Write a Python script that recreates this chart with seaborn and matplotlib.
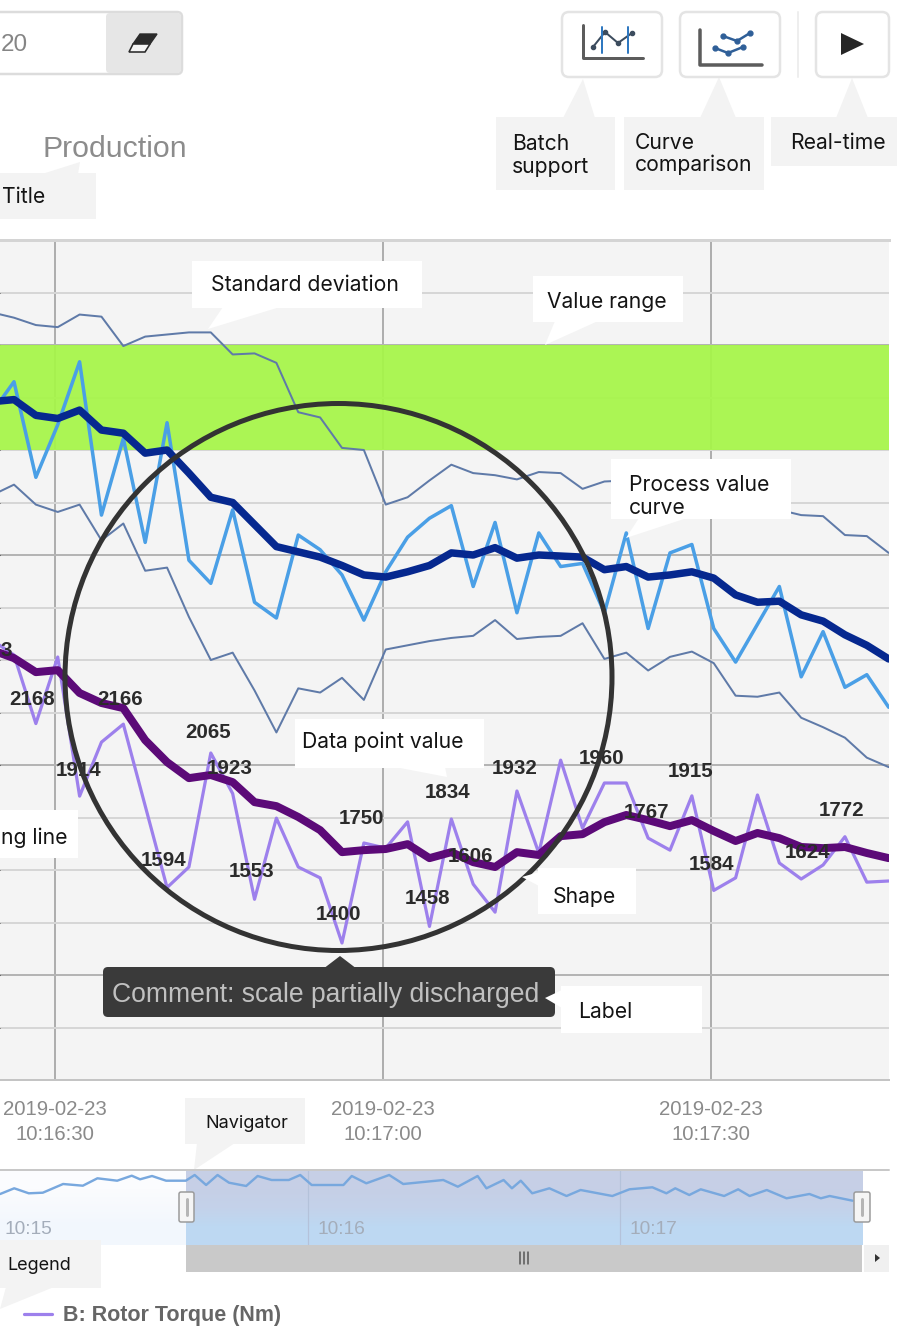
"""
Production trend chart with process value, torque and navigator, plus callouts
"""
import matplotlib.pyplot as plt
from matplotlib.colors import LinearSegmentedColormap
from matplotlib.patches import Circle, FancyBboxPatch, Polygon, Rectangle
import pandas as pd
import seaborn as sns

# sample times, seconds after 10:16:00
times = [24.25, 26.25, 28.25, 30.25, 32.25, 34.25, 36.25, 38.25, 40.25, 42.25, 44.25,
         46.25, 48.25, 50.25, 52.25, 54.25, 56.25, 58.25, 60.25, 62.25, 64.25, 66.25,
         68.25, 70.25, 72.25, 74.25, 76.25, 78.25, 80.25, 82.25, 84.25, 86.25, 88.25,
         90.25, 92.25, 94.25, 96.25, 98.25, 100.25, 102.25, 104.25, 106.25]

# A: process value, raw and smoothed, with the deviation curves
process_raw = [63.6, 66.5, 57.4, 62.4, 68.4, 53.8, 61.1, 51.2, 62.6, 49.5, 47.3, 54.3,
               45.5, 44.0, 51.9, 50.5, 48.1, 43.8, 48.4, 51.7, 53.5, 54.7, 47.0, 53.1,
               44.5, 52.1, 48.9, 49.2, 44.5, 52.1, 43.0, 50.2, 51.0, 43.0, 39.8, 43.4,
               47.0, 38.4, 42.7, 37.4, 38.6, 35.5]
process_mean = [64.6, 64.8, 63.3, 63.0, 63.8, 61.9, 61.6, 59.7, 60.0, 57.8, 55.5, 55.0,
                52.9, 50.8, 50.3, 49.8, 49.0, 48.1, 47.9, 48.4, 49.0, 50.2, 50.0, 50.7,
                49.7, 50.0, 49.9, 49.8, 48.6, 48.9, 47.9, 48.1, 48.4, 47.8, 46.2, 45.5,
                45.6, 44.3, 43.7, 42.4, 41.4, 40.1]
std_upper = [73.1, 72.6, 71.9, 71.7, 72.9, 72.7, 69.9, 70.8, 71.0, 71.2, 71.2, 69.1,
             69.2, 68.3, 63.6, 63.1, 60.2, 60.0, 54.8, 55.5, 57.1, 58.6, 57.8, 57.6,
             57.2, 57.9, 57.8, 56.3, 57.0, 57.1, 56.8, 56.4, 56.2, 55.7, 55.0, 54.8,
             54.3, 53.8, 53.7, 51.9, 51.8, 50.2]
std_lower = [55.7, 56.7, 54.8, 54.1, 54.8, 51.4, 53.0, 48.5, 48.8, 44.1, 40.0, 40.7,
             37.1, 33.1, 37.3, 36.9, 38.3, 36.2, 41.0, 41.4, 41.8, 42.1, 42.3, 43.8,
             42.0, 42.2, 42.3, 43.5, 40.1, 40.7, 39.0, 40.3, 40.8, 39.7, 36.6, 36.5,
             36.9, 34.5, 33.6, 32.6, 30.7, 29.8]

# B: rotor torque, raw and smoothed
torque_raw = [2460, 2408, 2168, 2401, 1914, 2103, 2166, 1880, 1594, 1666, 2065, 1923,
              1553, 1837, 1666, 1628, 1400, 1750, 1732, 1824, 1458, 1834, 1606, 1508,
              1932, 1715, 2040, 1802, 1960, 1960, 1767, 1725, 1915, 1584, 1628, 1918,
              1680, 1624, 1673, 1772, 1613, 1617]
torque_mean = [2425, 2397, 2348, 2355, 2275, 2240, 2222, 2110, 2033, 1977, 1988, 1963,
               1893, 1879, 1841, 1795, 1718, 1725, 1729, 1746, 1697, 1718, 1683, 1666,
               1718, 1708, 1774, 1781, 1823, 1848, 1830, 1809, 1830, 1792, 1757, 1785,
               1767, 1736, 1732, 1736, 1715, 1697]

# positions in torque_raw that carry a value label
label_index = [2, 6, 4, 8, 10, 11, 12, 16, 17, 20, 21, 22, 24, 28, 30, 32, 33, 37, 39]

tick_seconds = [30, 60, 90]
tick_labels = ['2019-02-23\n10:16:30', '2019-02-23\n10:17:00', '2019-02-23\n10:17:30']
major_grid = [10, 30, 50, 70]
minor_grid = [0, 5, 15, 20, 25, 35, 40, 45, 55, 60, 65, 75, 80]
value_range = [60, 70]

# navigator overview, seconds after 10:15:00
nav_seconds = [0.8, 3.5, 6.3, 9.0, 12.9, 16.7, 19.5, 23.3, 26.1, 27.7, 30.0, 32.7, 36.5,
               38.2, 40.4, 42.6, 44.8, 48.1, 50.3, 53.0, 56.3, 58.5, 60.7, 66.8, 68.4,
               71.2, 75.6, 78.3, 86.0, 88.8, 92.6, 94.3, 97.6, 99.2, 100.9, 103.1, 106.4,
               109.7, 112.4, 118.5, 121.8, 126.2, 128.9, 130.6, 133.3, 135.5, 140.0,
               142.7, 144.9, 148.2, 152.0, 156.4, 158.6, 160.3, 164.7]
nav_values = [51, 56.7, 51.7, 52.3, 61, 59.3, 66.7, 64.3, 69.3, 65.7, 69, 64.3, 64.3, 70,
              60, 70, 62.3, 59, 69, 65, 65, 70, 60, 60, 69, 61.7, 70, 61, 65, 58.3, 69,
              56.7, 65, 56.7, 64.3, 51.7, 56.7, 49, 55, 49, 55.7, 57.7, 51.7, 56.7, 50,
              55.7, 49, 55.7, 49, 55, 46.7, 51, 46.7, 49, 44.3]
nav_ticks = [60, 120]
nav_tick_labels = ['10:15', '10:16', '10:17']

W, H = 897, 1337
PX = 0.72  # line width in points for one pixel at dpi 100
ARIAL = 'Liberation Sans'
NOTE = 'Inter'

# where each value label sits, in pixels from its point
label_offsets = [(-4, 24), (-3, 25), (-1, 26), (-4, 27), (-3, 21), (-3, 25), (-3, 28),
                 (-3, 28), (-2, 25), (-2, 28), (-4, 26), (-3, 28), (-2, 23), (-3, 24),
                 (-2, 26), (-1, 24), (-2, 26), (6, 26), (-3, 26)]

sns.set_style('white')
plt.rcParams['font.family'] = [ARIAL, 'DejaVu Sans']

df = pd.DataFrame({'t': times, 'raw': process_raw, 'mean': process_mean, 'up': std_upper,
                   'low': std_lower, 'tq': torque_raw, 'tq_mean': torque_mean})

fig = plt.figure(figsize=(W / 100, H / 100), dpi=100, facecolor='white')


def axes_px(x0, y0, x1, y1):
    return fig.add_axes([x0 / W, 1 - y1 / H, (x1 - x0) / W, (y1 - y0) / H])


# main chart
ax = axes_px(0, 240, 889, 1080)
ax.set_facecolor('#f4f4f4')
ax.set_axisbelow(True)
ax.set_xlim(24.97, 106.28)
ax.set_ylim(0, 80)
ax.axhspan(*value_range, color='#a6f648', alpha=0.93, lw=0, zorder=1)
ax.set_yticks(major_grid)
ax.set_yticks(minor_grid, minor=True)
ax.set_xticks(tick_seconds, tick_labels)
ax.grid(which='major', axis='y', color='#b4b4b4', lw=2 * PX)
ax.grid(which='minor', axis='y', color='#d6d6d6', lw=2 * PX)
ax.grid(which='major', axis='x', color='#aeaeae', lw=2 * PX)
ax.tick_params(axis='y', which='both', left=False, labelleft=False)
ax.tick_params(axis='x', length=7, width=1, color='#cccccc', pad=7.5, labelsize=14.7,
               labelcolor='#8a8a8a')
for label in ax.get_xticklabels():
    label.set_linespacing(1.42)
sns.despine(ax=ax, left=True, right=True)
ax.spines['top'].set_visible(True)
ax.spines['top'].set_color('#d4d4d4')
ax.spines['top'].set_linewidth(3 * PX)
ax.spines['bottom'].set_color('#c4c4c4')
ax.spines['bottom'].set_linewidth(2 * PX)

sns.lineplot(data=df, x='t', y='up', ax=ax, color='#5f7aa8', lw=2 * PX, legend=False)
sns.lineplot(data=df, x='t', y='low', ax=ax, color='#5f7aa8', lw=2 * PX, legend=False)
sns.lineplot(data=df, x='t', y='raw', ax=ax, color='#4a9fe6', lw=3.5 * PX, legend=False)
sns.lineplot(data=df, x='t', y='mean', ax=ax, color='#06288f', lw=7.5 * PX, legend=False)
ax.set_xlabel('')
ax.set_ylabel('')
ax.set_title('Production', x=115 / 889, pad=60, fontsize=21.8, color='#8c8c8c')

# torque runs on its own scale
ax2 = ax.twinx()
ax2.set_ylim(920.5, 3860.5)
ax2.axis('off')
sns.lineplot(data=df, x='t', y='tq', ax=ax2, color='#9d80ec', lw=3.2 * PX, legend=False,
             label='B: Rotor Torque (Nm)')
sns.lineplot(data=df, x='t', y='tq_mean', ax=ax2, color='#5c0a78', lw=8 * PX, legend=False)
ax2.grid(False)
for i, offset in zip(label_index, label_offsets):
    ax2.annotate(str(torque_raw[i]), (times[i], torque_raw[i]), xytext=offset,
                 textcoords='offset pixels', ha='center', va='center', fontsize=14.8,
                 fontweight='bold', color='#2b2b2b', zorder=6)

# navigator
nav = axes_px(0, 1170, 889, 1245)
select_cmap = LinearSegmentedColormap.from_list('sel', ['#bdd8f2', '#c4d2ea', '#c6cfe6'])
pale_cmap = LinearSegmentedColormap.from_list('pale', ['#f2f7fd', '#fbfcfe'])
nav.imshow([[0], [1]], extent=(36.5, 166.5, 0, 75), origin='lower', aspect='auto',
           cmap=select_cmap, interpolation='bilinear', zorder=0)
nav.imshow([[0], [1]], extent=(0.77, 36.5, 0, 75), origin='lower', aspect='auto',
           cmap=pale_cmap, interpolation='bilinear', zorder=0)
nav.set_xlim(0.77, 171.7)
nav.set_ylim(0, 75)
for sec in nav_ticks:
    nav.axvline(sec, color='#b4c2da', lw=1.2 * PX, zorder=1)
sns.lineplot(x=nav_seconds, y=nav_values, ax=nav, color='#78a8de', lw=2.4 * PX, legend=False)
nav.axis('off')
for sec, text in zip([0, *nav_ticks], nav_tick_labels):
    nav.annotate(text, (sec, 0), xytext=(9, 16), textcoords='offset pixels', fontsize=13.8,
                 color='#a4adba', va='center', ha='left', annotation_clip=False)

# overlay in picture pixels for circle, toolbar and callouts
over = fig.add_axes([0, 0, 1, 1], zorder=5)
over.set_xlim(0, W)
over.set_ylim(H, 0)
over.axis('off')
over.patch.set_alpha(0)


def box(x0, y0, x1, y1, fc, ec='none', lw=0, rounded=0):
    if rounded:
        patch = FancyBboxPatch((x0 + rounded, y0 + rounded), x1 - x0 - 2 * rounded,
                               y1 - y0 - 2 * rounded, boxstyle=f'round,pad={rounded}',
                               fc=fc, ec=ec, lw=lw)
    else:
        patch = Rectangle((x0, y0), x1 - x0, y1 - y0, fc=fc, ec=ec, lw=lw)
    over.add_patch(patch)


def callout(rect, pointer, lines, fc='white', size=15.2):
    x0, y0, x1, y1 = rect
    box(x0, y0, x1, y1, fc)
    over.add_patch(Polygon(pointer, fc=fc, ec='none'))
    for x, y, text in lines:
        over.text(x, y + 1, text, family=NOTE, fontsize=size, color='#141414', va='center')


# circle and comment tooltip
over.add_patch(Circle((338.5, 677), 273.5, fc='none', ec='#333333', lw=5 * PX))
over.add_patch(Polygon([(323, 969), (340, 956), (357, 969)], fc='#3a3a3a', ec='none'))
box(103, 967, 555, 1017, '#3a3a3a', rounded=5)
over.text(326, 995, 'Comment: scale partially discharged', fontsize=19.1, color='#c0c0c0',
          ha='center', va='center')

# end of a label that runs off the left edge
over.text(6, 651, '3', fontsize=14.8, fontweight='bold', color='#2b2b2b', ha='center', va='center')

callout((192, 261, 422, 308), [(223, 307), (208, 329), (280, 307)],
        [(211, 284, 'Standard deviation')])
callout((533, 276, 683, 322), [(555, 321), (545, 345), (598, 321)],
        [(547, 301, 'Value range')])
callout((611, 459, 791, 519), [(639, 518), (626, 538), (687, 518)],
        [(629, 484, 'Process value'), (629, 507, 'curve')])
callout((295, 719, 484, 768), [(395, 767), (447, 777), (445, 767)],
        [(302, 741, 'Data point value')])
callout((0, 810, 78, 858), [(0, 810), (1, 810), (1, 858)], [(1, 837, 'ng line')])
callout((538, 868, 636, 914), [(539, 872), (522, 877), (539, 886)], [(553, 896, 'Shape')])
callout((561, 986, 702, 1033), [(562, 990), (545, 998), (562, 1008)], [(578, 1011, 'Label')])

# title and toolbar callouts
grey = '#f3f3f3'
callout((0, 173, 96, 219), [(42, 174), (80, 162), (78, 174)], [(2, 196, 'Title')], fc=grey)
callout((496, 117, 615, 190), [(563, 118), (583, 79), (595, 118)],
        [(512, 143, 'Batch'), (512, 166, 'support')], fc=grey)
callout((624, 117, 764, 190), [(700, 118), (719, 77), (736, 118)],
        [(635, 142, 'Curve'), (635, 164, 'comparison')], fc=grey)
callout((771, 117, 897, 166), [(836, 118), (852, 78), (868, 118)],
        [(790, 142, 'Real-time')], fc=grey)

# toolbar
box(-20, 12, 182, 74, 'white', ec='#dcdcdc', lw=2.5 * PX, rounded=5)
box(106, 13, 181, 73, '#e6e6e6', rounded=4)
over.text(1, 45, '20', fontsize=17.5, color='#858585', va='center')
over.add_patch(Polygon([(140, 34), (157, 34), (150, 44), (133, 44)], fc='#2b2b2b', ec='#2b2b2b'))
over.add_patch(Polygon([(133, 44), (150, 44), (145, 52), (129, 52)], fc='#f5f5f5', ec='#2b2b2b',
                       lw=1.6 * PX))
for x0, x1 in [(562, 662), (680, 780), (816, 889)]:
    box(x0, 12, x1, 77, 'white', ec='#e4e4e4', lw=2.5 * PX, rounded=7)
over.plot([798, 798], [12, 77], color='#eeeeee', lw=2 * PX)
over.plot([583, 583, 643], [25, 58, 58], color='#5c5c5c', lw=3 * PX)
over.plot([700, 700, 762], [30, 65, 65], color='#5c5c5c', lw=3.5 * PX)
over.plot([593, 605, 618, 632], [47, 32, 43, 33], color='#3c4c5e', lw=2 * PX,
          marker='o', ms=3)
over.plot([602, 602], [27, 53], color='#2f78c0', lw=2 * PX)
over.plot([628, 628], [27, 53], color='#2f78c0', lw=2 * PX)
over.plot([723, 737, 750], [36, 41, 33], color='#2f5f98', lw=2.5 * PX, marker='o', ms=3.5)
over.plot([715, 728, 743], [48, 53, 47], color='#2f5f98', lw=2.5 * PX, marker='o', ms=3.5)
over.add_patch(Polygon([(841, 33), (841, 55), (864, 44)], fc='#262626', ec='none'))

# navigator furniture
over.plot([0, 889], [1170, 1170], color='#c8c8c8', lw=2 * PX)
box(186, 1245, 862, 1272, '#c9c9c9')
box(864, 1245, 889, 1272, '#f0f0f0')
over.add_patch(Polygon([(875, 1254), (875, 1262), (880, 1258)], fc='#333333', ec='none'))
for x in [520, 524, 528]:
    over.plot([x, x], [1252, 1264], color='#555555', lw=1.5 * PX)
for x0, x1 in [(179, 194), (854, 870)]:
    box(x0, 1192, x1, 1222, '#f5f5f5', ec='#9a9a9a', lw=1.5 * PX, rounded=2)
    over.plot([(x0 + x1) / 2] * 2, [1199, 1215], color='#b5b5b5', lw=3 * PX)

callout((185, 1098, 305, 1144), [(197, 1143), (194, 1170), (235, 1143)],
        [(205, 1122, 'Navigator')], fc=grey, size=13)
callout((0, 1240, 101, 1288), [(6, 1287), (0, 1309), (54, 1287)],
        [(7, 1265, 'Legend')], fc=grey, size=13)

# legend
handle = ax2.get_lines()[0]
leg = fig.legend(handles=[handle], labels=['B: Rotor Torque (Nm)'], loc='center left',
                 bbox_to_anchor=(5 / W, 1 - 1316 / H), frameon=False, handlelength=1.3,
                 handletextpad=0.5, labelcolor='#666666',
                 prop={'family': ARIAL, 'weight': 'bold', 'size': 15.5})

fig.savefig('out.png', dpi=100)
